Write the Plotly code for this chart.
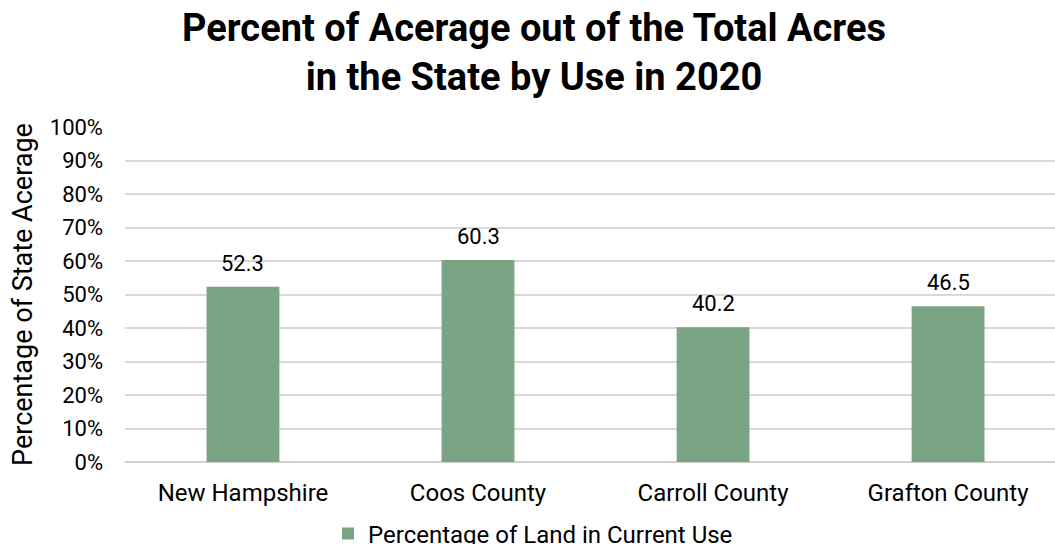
import plotly.graph_objects as go

categories = ["New Hampshire", "Coos County", "Carroll County", "Grafton County"]
land_pct = [52.3, 60.3, 40.2, 46.5]
y_ticks = [0, 10, 20, 30, 40, 50, 60, 70, 80, 90, 100]
y_tick_text = [f"{v}%" for v in y_ticks]

BAR_COLOR = "#79A584"
FONT = "Roboto"

fig = go.Figure()
fig.add_trace(go.Bar(
    x=categories,
    y=land_pct,
    name="Percentage of Land in Current Use",
    marker=dict(color=BAR_COLOR, line=dict(width=0)),
    width=0.31,
))

# value labels above each bar
for cat, val in zip(categories, land_pct):
    fig.add_annotation(
        x=cat, y=val, text=f"{val}", showarrow=False,
        yanchor="bottom", yshift=9,
        font=dict(family=FONT, size=22, color="#000000"),
    )

fig.update_layout(
    width=1055, height=544,
    margin=dict(l=125, r=0, t=127, b=82, autoexpand=False),
    paper_bgcolor="white", plot_bgcolor="white",
    font=dict(family=FONT, color="#000000"),
    title=dict(
        text="<b>Percent of Acerage out of the Total Acres<br>in the State by Use in 2020</b>",
        x=534 / 1055, xanchor="center", xref="container",
        y=1 - 41 / 544, yanchor="middle", yref="container",
        font=dict(family=FONT, size=38, color="#000000"),
    ),
    xaxis=dict(
        range=[-0.502, 3.455], automargin=False, tickangle=0,
        showgrid=False, showline=False, zeroline=False,
        ticks="", ticklabelstandoff=14,
        tickfont=dict(family=FONT, size=24, color="#000000"),
    ),
    yaxis=dict(
        range=[0, 100], automargin=False,
        tickvals=y_ticks, ticktext=y_tick_text,
        showgrid=True, gridcolor="#d9d9d9", gridwidth=1.5,
        zeroline=True, zerolinecolor="#d0d0d0", zerolinewidth=1.5,
        showline=False, ticks="", ticklabelstandoff=21,
        tickfont=dict(family=FONT, size=22, color="#000000"),
        title=dict(text="Percentage of State Acerage", standoff=9,
                   font=dict(family=FONT, size=27, color="#000000")),
    ),
    showlegend=True,
    legend=dict(
        orientation="h", x=328 / 1055, xref="container", xanchor="left",
        y=1 - 534 / 544, yref="container", yanchor="middle",
        font=dict(family=FONT, size=24, color="#000000"),
        bgcolor="rgba(0,0,0,0)",
    ),
    bargap=0.69,
)

fig.write_html("out.html")
